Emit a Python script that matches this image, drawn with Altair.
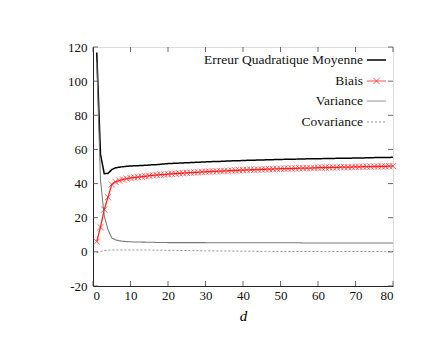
import altair as alt
import pandas as pd

d_values = list(range(1, 81))

mse = [116.8, 57.0, 45.8, 45.9, 48.2, 49.2, 49.6, 49.9, 50.1, 50.3,
       50.4, 50.5, 50.6, 50.7, 50.9, 51.0, 51.1, 51.3, 51.5, 51.7,
       51.8, 51.9, 52.0, 52.1, 52.2, 52.3, 52.4, 52.5, 52.6, 52.7,
       52.8, 52.9, 53.0, 53.0, 53.1, 53.2, 53.3, 53.3, 53.4, 53.5,
       53.6, 53.6, 53.7, 53.8, 53.8, 53.9, 54.0, 54.0, 54.1, 54.1,
       54.2, 54.2, 54.3, 54.3, 54.4, 54.4, 54.5, 54.5, 54.5, 54.6,
       54.6, 54.7, 54.7, 54.7, 54.8, 54.8, 54.8, 54.9, 54.9, 55.0,
       55.0, 55.0, 55.1, 55.1, 55.2, 55.2, 55.2, 55.3, 55.3, 55.4]

biais = [6.0, 14.5, 24.8, 32.0, 39.5, 41.0, 41.8, 42.4, 42.9, 43.3,
         43.6, 43.8, 44.1, 44.3, 44.6, 44.8, 45.0, 45.2, 45.3, 45.5,
         45.7, 45.8, 46.0, 46.1, 46.3, 46.4, 46.5, 46.6, 46.8, 46.9,
         47.0, 47.1, 47.2, 47.3, 47.4, 47.5, 47.6, 47.7, 47.8, 47.9,
         48.0, 48.1, 48.1, 48.2, 48.3, 48.4, 48.4, 48.5, 48.6, 48.7,
         48.7, 48.8, 48.8, 48.9, 49.0, 49.0, 49.1, 49.1, 49.2, 49.3,
         49.3, 49.4, 49.4, 49.5, 49.5, 49.6, 49.6, 49.6, 49.7, 49.8,
         49.8, 49.9, 49.9, 49.9, 50.0, 50.0, 50.1, 50.1, 50.2, 50.2]

variance = [111.0, 42.0, 21.0, 13.0, 8.2, 7.0, 6.5, 6.2, 6.0, 5.9,
            5.8, 5.8, 5.7, 5.7, 5.6, 5.6, 5.5, 5.5, 5.5, 5.4,
            5.4, 5.4, 5.4, 5.4, 5.4, 5.4, 5.4, 5.4, 5.4, 5.4,
            5.3, 5.3, 5.3, 5.3, 5.3, 5.3, 5.3, 5.3, 5.3, 5.3,
            5.3, 5.3, 5.3, 5.3, 5.3, 5.3, 5.3, 5.3, 5.3, 5.3,
            5.3, 5.3, 5.3, 5.3, 5.3, 5.2, 5.2, 5.2, 5.2, 5.2,
            5.2, 5.2, 5.2, 5.2, 5.2, 5.2, 5.2, 5.2, 5.2, 5.2,
            5.2, 5.2, 5.2, 5.2, 5.2, 5.2, 5.2, 5.2, 5.2, 5.2]

covariance = [-0.5, 0.3, 0.8, 1.0, 1.1, 1.1, 1.1, 1.1, 1.1, 1.1,
              1.1, 1.1, 1.1, 1.1, 1.1, 1.0, 1.0, 1.0, 0.9, 0.9,
              0.9, 0.9, 0.8, 0.8, 0.8, 0.7, 0.7, 0.7, 0.6, 0.6,
              0.6, 0.6, 0.5, 0.5, 0.5, 0.5, 0.5, 0.4, 0.4, 0.4,
              0.4, 0.4, 0.4, 0.3, 0.3, 0.3, 0.3, 0.3, 0.3, 0.3,
              0.3, 0.3, 0.3, 0.2, 0.2, 0.2, 0.2, 0.2, 0.2, 0.2,
              0.2, 0.2, 0.2, 0.2, 0.2, 0.2, 0.2, 0.2, 0.2, 0.2,
              0.2, 0.2, 0.2, 0.2, 0.2, 0.2, 0.2, 0.2, 0.2, 0.2]

series_names = ["Erreur Quadratique Moyenne", "Biais", "Variance", "Covariance"]
series_colors = ["#000000", "#ff2020", "#777777", "#777777"]
series_widths = [1.5, 0.8, 0.8, 0.8]
series_dashes = [[1, 0], [1, 0], [1, 0], [2, 2]]

x_ticks = [0, 10, 20, 30, 40, 50, 60, 70, 80]
y_ticks = [-20, 0, 20, 40, 60, 80, 100, 120]

rows = []
for name, vals in zip(series_names, [mse, biais, variance, covariance]):
    for dv, v in zip(d_values, vals):
        rows.append({"series": name, "d": dv, "value": v})
df = pd.DataFrame(rows)

W, H = 300, 239
FONT = "Liberation Serif"

xs = alt.Scale(domain=[0, 80], nice=False, zero=False)
ys = alt.Scale(domain=[-20, 120], nice=False, zero=False)
xaxis = alt.Axis(values=x_ticks, ticks=False, grid=False, domainColor="#222222",
                 labelFont=FONT, labelFontSize=13, labelColor="#111111", labelPadding=3,
                 title="d", titleFont=FONT, titleFontSize=15, titleFontStyle="italic",
                 titleFontWeight="normal", titleColor="#000000", titlePadding=6)
yaxis = alt.Axis(values=y_ticks, ticks=False, grid=False, domainColor="#222222",
                 labelFont=FONT, labelFontSize=13, labelColor="#111111", labelPadding=6,
                 labelExpr="'' + datum.value", title="")

X = alt.X("d:Q", scale=xs, axis=xaxis)
Y = alt.Y("value:Q", scale=ys, axis=yaxis)

lines = alt.Chart(df).mark_line(clip=True).encode(
    x=X, y=Y,
    color=alt.Color("series:N", scale=alt.Scale(domain=series_names, range=series_colors), legend=None),
    strokeWidth=alt.StrokeWidth("series:N", scale=alt.Scale(domain=series_names, range=series_widths), legend=None),
    strokeDash=alt.StrokeDash("series:N", scale=alt.Scale(domain=series_names, range=series_dashes), legend=None),
    detail="series:N",
)

cross = "M-1,-1L1,1M1,-1L-1,1"
pts = alt.Chart(df[df["series"] == "Biais"]).mark_point(
    shape=cross, size=40, filled=False, color="#ff2020", strokeWidth=1
).encode(x=X, y=Y)

xt = pd.DataFrame({"d": x_ticks})
yt = pd.DataFrame({"value": y_ticks})
tick_color = "#444444"
tb = alt.Chart(xt).mark_rule(color=tick_color, strokeWidth=0.8).encode(x=X, y=alt.value(H), y2=alt.value(H - 5))
tt = alt.Chart(xt).mark_rule(color=tick_color, strokeWidth=0.8).encode(x=X, y=alt.value(0), y2=alt.value(5))
tl = alt.Chart(yt).mark_rule(color=tick_color, strokeWidth=0.8).encode(y=Y, x=alt.value(0), x2=alt.value(5))
tr = alt.Chart(yt).mark_rule(color=tick_color, strokeWidth=0.8).encode(y=Y, x=alt.value(W), x2=alt.value(W - 5))

legend_layers = []
leg_y = [13, 34, 54, 75]
for i, name in enumerate(series_names):
    ldf = pd.DataFrame({"t": [name]})
    legend_layers.append(
        alt.Chart(ldf).mark_text(align="right", baseline="middle", font=FONT, fontSize=13.5, color="#111111")
        .encode(x=alt.value(270), y=alt.value(leg_y[i]), text="t:N")
    )
    legend_layers.append(
        alt.Chart(ldf).mark_rule(color=series_colors[i], strokeWidth=series_widths[i],
                                 strokeDash=series_dashes[i])
        .encode(x=alt.value(274), x2=alt.value(293), y=alt.value(leg_y[i]))
    )
legend_layers.append(
    alt.Chart(pd.DataFrame({"t": ["Biais"]})).mark_point(
        shape=cross, size=40, filled=False, color="#ff2020", strokeWidth=1
    ).encode(x=alt.value(283.5), y=alt.value(leg_y[1]))
)

chart = alt.layer(lines, pts, tb, tt, tl, tr, *legend_layers).properties(
    width=W, height=H,
    autosize=alt.AutoSizeParams(type="none"),
    padding={"left": 85, "top": 39, "right": 35, "bottom": 43},
).configure_view(stroke="#222222", strokeWidth=1).configure(background="#ffffff")

chart.save("out.html", embed_options={"renderer": "svg", "actions": False})
